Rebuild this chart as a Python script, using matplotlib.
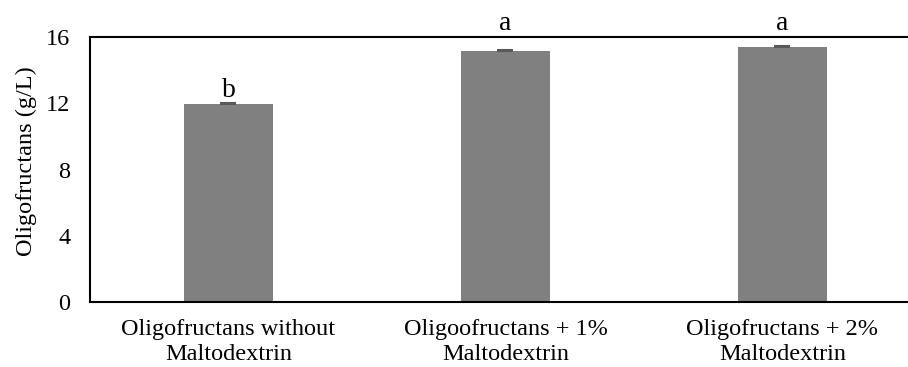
import matplotlib.pyplot as plt

categories = ["Oligofructans without\nMaltodextrin",
              "Oligoofructans + 1%\nMaltodextrin",
              "Oligofructans + 2%\nMaltodextrin"]
values = [11.95, 15.15, 15.40]
errors = [0.05, 0.05, 0.05]
letters = ["b", "a", "a"]
letter_y = [12.4, 16.45, 16.45]

plt.rcParams["font.family"] = ["Liberation Serif", "DejaVu Serif"]
plt.rcParams["font.size"] = 17.5

fig = plt.figure(figsize=(9.08, 3.67), dpi=100)
W, H = 908, 367
ax = fig.add_axes([90 / W, (H - 302) / H, 831 / W, 265 / H])

xs = list(range(len(categories)))
ax.bar(xs, values, width=0.32, color="#808080", zorder=2)
ax.errorbar(xs, values, yerr=[[0] * 3, errors], fmt="none", ecolor="#595959",
            capsize=6, elinewidth=1, capthick=1.5, zorder=3)

for x, t, y in zip(xs, letters, letter_y):
    ax.text(x, y, t, ha="center", va="baseline", fontsize=20, clip_on=False)

ax.set_xlim(-0.5, 2.5)
ax.set_ylim(0, 16)
ax.set_yticks([0, 4, 8, 12, 16])
ax.set_yticks([4, 8, 12], minor=True)
ax.tick_params(axis="y", which="major", length=0, pad=14)
ax.tick_params(axis="y", which="minor", length=6, width=1.2, direction="out")
ax.set_xticks(xs)
ax.set_xticklabels(categories, linespacing=1.3)
ax.tick_params(axis="x", length=0, pad=12)
ax.set_ylabel("Oligofructans (g/L)")
ax.yaxis.set_label_coords(-0.064, 0.53)

for s in ["left", "bottom", "top"]:
    ax.spines[s].set_linewidth(1.5)
ax.spines["right"].set_visible(False)

fig.savefig("out.png", dpi=100)
